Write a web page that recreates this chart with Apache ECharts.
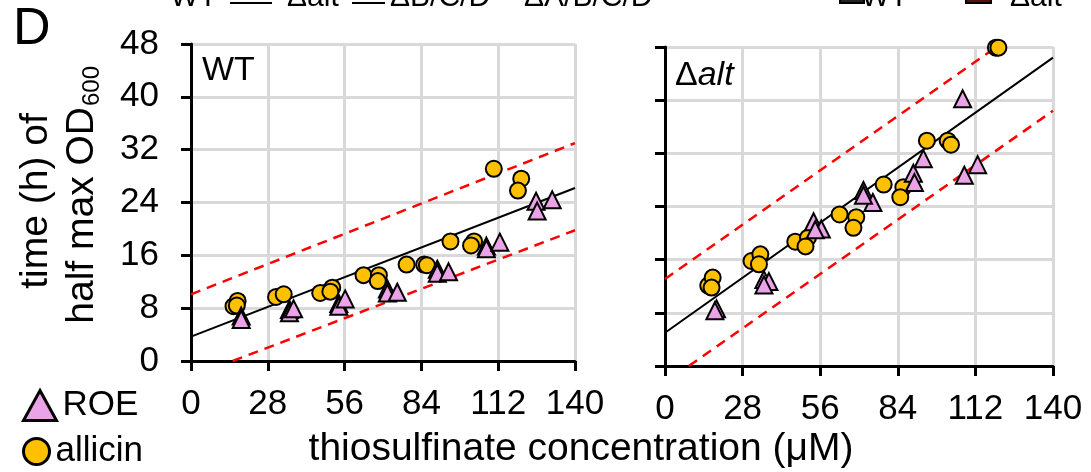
<!DOCTYPE html>
<html>
<head>
<meta charset="utf-8">
<script src="https://cdn.jsdelivr.net/npm/echarts@6/dist/echarts.min.js"></script>
<style>
html,body{margin:0;padding:0;background:#fff;}
#chart{width:1091px;height:472px;}
</style>
</head>
<body>
<div id="chart"></div>
<script>
// ---- data ----
const seriesNames = ['ROE', 'allicin'];
const panelLabels = ['WT', 'Δalt'];
const xTickValues = [0, 28, 56, 84, 112, 140];
const yTickValues = [0, 8, 16, 24, 32, 40, 48];

const wtAllicin = [[15.5,8.3],[17,9.1],[16.7,8.4],[31,9.7],[33.8,10.1],[47.1,10.3],[51.5,11.1],[50.8,10.5],
  [62.9,13.0],[68.5,13.0],[68.1,12.1],[78.6,14.6],[85,14.6],[86,14.5],[94.6,18.1],[103.2,18.1],[102.1,17.5],
  [110.4,29.1],[120.4,27.6],[119.2,25.8]];
const wtROE = [[18.3,6.8],[18.3,6.3],[35.9,7.8],[35.9,7.3],[37.4,7.9],[53.9,8.7],[53.9,8.3],[56.2,9.4],
  [71.6,10.9],[71.6,10.3],[75.2,10.4],[89.8,13.9],[89.8,13.3],[93.9,13.5],[107.7,17.4],[107.7,17.0],
  [112.6,18.0],[125.8,24.2],[126.2,22.7],[131.7,24.4]];
const altAllicin = [[15.6,12.1],[17.2,13.3],[16.8,11.8],[31.2,15.8],[34.4,16.8],[33.9,15.3],[47,18.7],
  [51.6,19.3],[50.7,18.0],[63,22.8],[69,22.4],[68,20.8],[78.9,27.3],[86,26.9],[84.9,25.4],[94.5,33.9],
  [102,33.9],[103.2,33.3],[119.4,47.9],[120.3,47.9]];
const altROE = [[18.6,8.6],[18,8.3],[35.7,13],[37.5,12.7],[35.7,12.2],[53.6,21.7],[56.4,20.6],[54.2,20.5],
  [71.6,26.4],[75,24.6],[71.6,25.7],[89.6,29],[93.2,31.2],[90,27.6],[107.4,40.2],[108,28.7],[112.8,30.3]];

// regression line and prediction band end points
const wtFit = [[0,3.7],[140,26.2]];
const wtUpper = [[0,10.1],[140,33.0]];
const wtLower = [[15.2,0],[140,19.8]];
const altFit = [[0,5.0],[140,46.4]];
const altUpper = [[0,13.1],[119.6,48]];
const altLower = [[8.6,0],[140,38.4]];

// ---- chart ----
const FONT = "'Liberation Sans', Arial, sans-serif";
const TICK_FS = 35;
const chart = echarts.init(document.getElementById('chart'), null, {renderer: 'canvas'});

function xAxisCfg(gi) {
  return {
    gridIndex: gi, type: 'value', min: xTickValues[0], max: xTickValues[xTickValues.length - 1], interval: 28,
    axisLine: {show: true, onZero: false, lineStyle: {color: '#000', width: 3}},
    axisTick: {show: true, length: 10, lineStyle: {color: '#000', width: 3}},
    axisLabel: {fontSize: TICK_FS, color: '#000', fontFamily: FONT, margin: 26},
    splitLine: {show: true, lineStyle: {color: '#D9D9D9', width: 3}}
  };
}
function yAxisCfg(gi, showLabels) {
  return {
    gridIndex: gi, type: 'value', min: yTickValues[0], max: yTickValues[yTickValues.length - 1], interval: 8,
    axisLine: {show: true, onZero: false, lineStyle: {color: '#000', width: 3}},
    axisTick: {show: true, length: 10, lineStyle: {color: '#000', width: 3}},
    axisLabel: {show: showLabels, fontSize: TICK_FS, color: '#000', fontFamily: FONT, margin: 32},
    splitLine: {show: true, lineStyle: {color: '#D9D9D9', width: 3}}
  };
}
function lineSeries(gi, data, dashed) {
  return {
    type: 'line', xAxisIndex: gi, yAxisIndex: gi, data: data, symbol: 'none', silent: true, clip: true,
    lineStyle: dashed ? {color: '#FF0000', width: 2.5, type: [10, 7]} : {color: '#000', width: 2},
    z: 2, animation: false
  };
}
function scatterSeries(gi, name, data) {
  const isTri = name === seriesNames[0];
  return {
    type: 'scatter', name: name, xAxisIndex: gi, yAxisIndex: gi, data: data,
    symbol: isTri ? 'triangle' : 'circle', symbolSize: isTri ? 17 : 16,
    itemStyle: {color: isTri ? '#E9A3E6' : '#FFC000', borderColor: '#000', borderWidth: 2, opacity: 1},
    z: isTri ? 4 : 3, animation: false
  };
}
function legendCfg(name, top, w, h) {
  return {
    orient: 'vertical', left: 22, top: top, itemWidth: w, itemHeight: h, padding: 0,
    data: [name], selectedMode: false,
    itemStyle: {borderWidth: 3, borderColor: '#000'},
    textStyle: {fontSize: 35, color: '#000', fontFamily: FONT, padding: [0, 0, 0, 1]}
  };
}

const option = {
  backgroundColor: '#fff',
  animation: false,
  textStyle: {fontFamily: FONT},
  grid: [
    {left: 191, top: 44, width: 384, height: 317},
    {left: 665, top: 47, width: 388, height: 319}
  ],
  xAxis: [xAxisCfg(0), xAxisCfg(1)],
  yAxis: [yAxisCfg(0, true), yAxisCfg(1, false)],
  legend: [legendCfg(seriesNames[0], 388, 33, 30), legendCfg(seriesNames[1], 434, 26, 26)],
  series: [
    lineSeries(0, wtFit, false), lineSeries(0, wtUpper, true), lineSeries(0, wtLower, true),
    lineSeries(1, altFit, false), lineSeries(1, altUpper, true), lineSeries(1, altLower, true),
    scatterSeries(0, seriesNames[1], wtAllicin), scatterSeries(0, seriesNames[0], wtROE),
    scatterSeries(1, seriesNames[1], altAllicin), scatterSeries(1, seriesNames[0], altROE)
  ],
  graphic: [
    // panel letter
    {type: 'text', x: 13, y: 30, style: {text: 'D', fontSize: 52, fontFamily: FONT, fill: '#000', verticalAlign: 'middle'}},
    // panel labels
    {type: 'text', x: 202, y: 71, style: {text: panelLabels[0], fontSize: 34, fontFamily: FONT, fill: '#000', verticalAlign: 'middle'}},
    {type: 'text', x: 675, y: 76, style: {text: '{n|Δ}{i|alt}', fontSize: 34, fontFamily: FONT, fill: '#000', verticalAlign: 'middle',
      rich: {n: {fontSize: 34, fontFamily: FONT, fill: '#000'}, i: {fontSize: 34, fontFamily: FONT, fontStyle: 'italic', fill: '#000'}}}},
    // y axis title (rotated)
    {type: 'group', x: 59, y: 204, rotation: Math.PI / 2, children: [
      {type: 'text', x: 3, y: -23, style: {text: 'time (h) of', fontSize: 39, fontFamily: FONT, fill: '#000', align: 'center', verticalAlign: 'middle'}},
      {type: 'text', x: 97, y: 23, style: {text: 'half max OD', fontSize: 39, fontFamily: FONT, fill: '#000', align: 'right', verticalAlign: 'middle'}},
      {type: 'text', x: 98, y: 33, style: {text: '600', fontSize: 24, fontFamily: FONT, fill: '#000', align: 'left', verticalAlign: 'middle'}}
    ]},
    // x axis title
    {type: 'text', x: 581, y: 449, style: {text: 'thiosulfinate concentration (μM)', fontSize: 39, fontFamily: FONT, fill: '#000', align: 'center', verticalAlign: 'middle'}},
    // cut-off legend text from the panel above
    {type: 'text', x: 217, y: -2, style: {text: 'WT', fontSize: 30, fontFamily: FONT, fill: '#000', align: 'right', verticalAlign: 'middle'}},
    {type: 'line', shape: {x1: 230, y1: 3, x2: 272, y2: 3}, style: {stroke: '#000', lineWidth: 2}},
    {type: 'text', x: 287, y: -2, style: {text: 'Δalt', fontSize: 30, fontFamily: FONT, fill: '#000', align: 'left', verticalAlign: 'middle'}},
    {type: 'line', shape: {x1: 352, y1: 3, x2: 385, y2: 3}, style: {stroke: '#000', lineWidth: 2}},
    {type: 'text', x: 390, y: -2, style: {text: 'ΔB/C/D', fontSize: 30, fontFamily: FONT, fill: '#000', align: 'left', verticalAlign: 'middle'}},
    {type: 'text', x: 524, y: -2, style: {text: 'ΔA/B/C/D', fontSize: 30, fontFamily: FONT, fill: '#000', align: 'left', verticalAlign: 'middle'}},
    {type: 'rect', shape: {x: 840, y: -20, width: 24, height: 23}, style: {fill: '#222', stroke: '#000', lineWidth: 2}},
    {type: 'text', x: 908, y: -2, style: {text: 'WT', fontSize: 30, fontFamily: FONT, fill: '#000', align: 'right', verticalAlign: 'middle'}},
    {type: 'rect', shape: {x: 966, y: -20, width: 25, height: 23}, style: {fill: '#5a0f0f', stroke: '#000', lineWidth: 2}},
    {type: 'text', x: 1010, y: -2, style: {text: 'Δalt', fontSize: 30, fontFamily: FONT, fill: '#000', align: 'left', verticalAlign: 'middle'}}
  ]
};
chart.setOption(option);
</script>
</body>
</html>
